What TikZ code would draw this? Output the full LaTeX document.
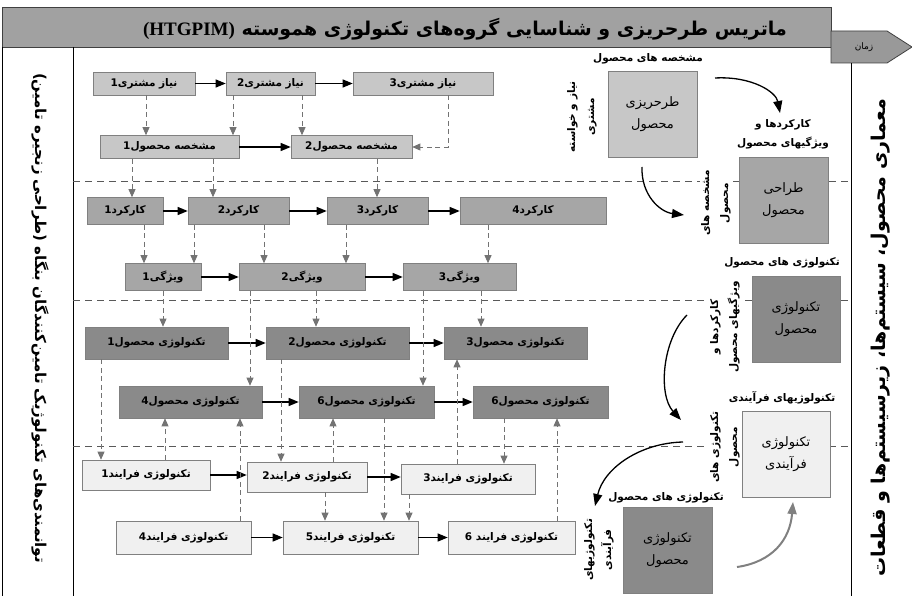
\documentclass[tikz,border=0pt]{standalone}
\usepackage{fontspec}
\usepackage{tikz}
\usetikzlibrary{arrows.meta, positioning, calc}
\TeXXeTstate=1
\newfontfamily\fa[Script=Arabic]{DejaVu Sans}
\newfontfamily\lat{Liberation Serif}

\begin{document}
\begin{tikzpicture}[
  x=1pt, y=-1pt,
  cell/.style={rectangle, draw=black!50, line width=0.6pt, inner sep=1pt,
               font=\fa\bfseries\fontsize{10.5}{12}\selectfont},
  needbox/.style={cell, fill=black!22, minimum height=23},
  funcbox/.style={cell, fill=black!35, minimum height=27},
  techbox/.style={cell, fill=black!46, minimum height=32},
  procbox/.style={cell, fill=black!6, minimum height=30},
  bigbox/.style={rectangle, draw=black!50, line width=0.6pt, minimum width=89,
                 minimum height=86, align=center,
                 font=\fa\fontsize{13}{22}\selectfont},
  sidelab/.style={font=\fa\bfseries\fontsize{10.5}{19}\selectfont, align=center,
                  inner sep=1pt, fill=white},
  rowline/.style={black!65, line width=0.9pt, dash pattern=on 7pt off 5pt},
  dasharr/.style={black!55, line width=0.8pt, dash pattern=on 5pt off 3.5pt,
                  -{Triangle[length=8pt, width=7pt]}},
  solidarr/.style={black, line width=1.2pt, -{Triangle[length=10pt, width=8pt]}},
  curvarr/.style={black, line width=1.3pt, -{Triangle[length=12pt, width=9pt]}}
]
\useasboundingbox (0,0) rectangle (912,596);

% frame
\draw[black!75, line width=0.8pt, fill=black!37] (2,7) rectangle (831,47);
\draw[black!75, line width=0.8pt, fill=black!40]
  (831,31) -- (887,31) -- (912,47) -- (887,63) -- (831,63) -- cycle;
\draw[line width=0.8pt] (2,47) -- (2,596);
\draw[line width=0.8pt] (73,47) -- (73,596);
\draw[line width=0.8pt] (851,63) -- (851,596);
\foreach \y in {181,300,446}
  \draw[rowline] (73,\y) -- (851,\y);

\node[font=\fa\bfseries\fontsize{19}{22}\selectfont] (title) at (465,29)
  {\beginR ماتریس طرحریزی و شناسایی گروه‌های تکنولوژی هموسته \beginL{\lat\bfseries (HTGPIM)}\endL\endR};
\node[font=\fa\fontsize{9}{10}\selectfont] (time) at (864,47) {\beginR زمان\endR};

\node[rotate=-90, font=\fa\bfseries\fontsize{15}{17}\selectfont] (suppl) at (40,318)
  {\beginR توانمندی‌های تکنولوژیک تامین‌کنندگان بنگاه (طراحی زنجیره تامین)\endR};
\node[rotate=90, font=\fa\bfseries\fontsize{19}{22}\selectfont] (arch) at (881,338)
  {\beginR معماری محصول، سیستم‌ها، زیرسیستم‌ها و قطعات\endR};

% needs and specifications
\node[needbox, minimum width=102] (n1) at (144,83.5) {\beginR نیاز مشتری1\endR};
\node[needbox, minimum width=89] (n2) at (270.5,83.5) {\beginR نیاز مشتری2\endR};
\node[needbox, minimum width=140] (n3) at (423,83.5) {\beginR نیاز مشتری3\endR};
\node[needbox, minimum width=139] (m1) at (169.5,147) {\beginR مشخصه محصول1\endR};
\node[needbox, minimum width=121] (m2) at (351.5,147) {\beginR مشخصه محصول2\endR};

% functions and features
\node[funcbox, minimum width=76] (k1) at (125,211) {\beginR کارکرد1\endR};
\node[funcbox, minimum width=101] (k2) at (238.5,211) {\beginR کارکرد2\endR};
\node[funcbox, minimum width=101] (k3) at (377.5,211) {\beginR کارکرد3\endR};
\node[funcbox, minimum width=146] (k4) at (533,211) {\beginR کارکرد4\endR};
\node[funcbox, minimum width=76] (v1) at (163,277) {\beginR ویژگی1\endR};
\node[funcbox, minimum width=126] (v2) at (302,277) {\beginR ویژگی2\endR};
\node[funcbox, minimum width=113] (v3) at (459.5,277) {\beginR ویژگی3\endR};

% product technologies
\node[techbox, minimum width=143] (p1) at (156.5,343) {\beginR تکنولوژی محصول1\endR};
\node[techbox, minimum width=143] (p2) at (337.5,343) {\beginR تکنولوژی محصول2\endR};
\node[techbox, minimum width=143] (p3) at (515.5,343) {\beginR تکنولوژی محصول3\endR};
\node[techbox, minimum width=143] (p4) at (190.5,402) {\beginR تکنولوژی محصول4\endR};
\node[techbox, minimum width=135] (p5) at (366.5,402) {\beginR تکنولوژی محصول6\endR};
\node[techbox, minimum width=135] (p6) at (540.5,402) {\beginR تکنولوژی محصول6\endR};

% process technologies
\node[procbox, minimum width=128] (f1) at (146,475) {\beginR تکنولوژی فرایند1\endR};
\node[procbox, minimum width=120] (f2) at (307,477) {\beginR تکنولوژی فرایند2\endR};
\node[procbox, minimum width=134] (f3) at (468,479) {\beginR تکنولوژی فرایند3\endR};
\node[procbox, minimum width=135, minimum height=33] (f4) at (183.5,537.5) {\beginR تکنولوژی فرایند4\endR};
\node[procbox, minimum width=135, minimum height=33] (f5) at (350.5,537.5) {\beginR تکنولوژی فرایند5\endR};
\node[procbox, minimum width=127, minimum height=33] (f6) at (511.5,537.5) {\beginR تکنولوژی فرایند 6\endR};

% links
\foreach \a/\b in {n1/n2, n2/n3, m1/m2, k1/k2, k2/k3, k3/k4, v1/v2, v2/v3,
                   p1/p2, p2/p3, p4/p5, p5/p6, f1/f2, f2/f3, f4/f5, f5/f6}
  \draw[solidarr] (\a.east) -- (\a.east -| \b.west);

\foreach \a/\b/\s in {n1/m1/2, n2/m1/-37.5, n2/m2/31.5, m1/k1/-37.5, m1/k2/43.5,
                      m2/k3/25.5, k1/v1/19, k2/v1/-44.5, k2/v2/25.5, k3/v2/-31.5,
                      k4/v3/-45, v1/p1/0, v2/p4/-52, v2/p2/14, v3/p5/-36.5,
                      v3/p3/21.5, p1/f1/-55.5, p2/f2/-56.5, p5/f5/17.5,
                      p6/f3/-36.5, f2/f5/18, f3/f5/-59}
  \draw[dasharr] ([xshift=\s]\a.south) -- ([xshift=\s]\a.south |- \b.north);

\foreach \a/\b/\s in {f1/p4/19, f4/p4/56.5, f2/p5/26, f3/p3/-11, f6/p6/45.5}
  \draw[dasharr] ([xshift=\s]\a.north) -- ([xshift=\s]\a.north |- \b.south);

\draw[dasharr] ([xshift=25]n3.south) |- (m2.east);

% design stages
\node[bigbox, fill=black!22] (plan) at (652.5,114.5) {\beginR طرحریزی\endR\\\beginR محصول\endR};
\node[bigbox, fill=black!35] (design) at (783.5,200) {\beginR طراحی\endR\\\beginR محصول\endR};
\node[bigbox, fill=black!46, minimum width=88] (ptech) at (796,319) {\beginR تکنولوژی\endR\\\beginR محصول\endR};
\node[bigbox, fill=black!6, minimum width=88] (proc) at (786,454.5) {\beginR تکنولوژی\endR\\\beginR فرآیندی\endR};
\node[bigbox, fill=black!46] (ptech2) at (667.5,550) {\beginR تکنولوژی\endR\\\beginR محصول\endR};

\node[sidelab] (lplan) at (648,59) {\beginR مشخصه های محصول\endR};
\node[sidelab] (ldesign) at (783,134) {\beginR کارکردها و\endR\\\beginR ویژگیهای محصول\endR};
\node[sidelab] (lptech) at (782,263) {\beginR تکنولوژی های محصول\endR};
\node[sidelab] (lproc) at (782,398) {\beginR تکنولوژیهای فرآیندی\endR};
\node[sidelab] (lptech2) at (666,498) {\beginR تکنولوژی های محصول\endR};

\node[sidelab, rotate=90] (rplan) at (582,117) {\beginR نیاز و خواسته\endR\\\beginR مشتری\endR};
\node[sidelab, rotate=90] (rdesign) at (716,203) {\beginR مشخصه های\endR\\\beginR محصول\endR};
\node[sidelab, rotate=90] (rptech) at (725,327) {\beginR کارکردها و\endR\\\beginR ویژگیهای محصول\endR};
\node[sidelab, rotate=90] (rproc) at (725,447) {\beginR تکنولوژی های\endR\\\beginR محصول\endR};
\node[sidelab, rotate=90] (rptech2) at (599,550) {\beginR تکنولوژیهای\endR\\\beginR فرآیندی\endR};

\coordinate (c1a) at (715,78);  \coordinate (c1b) at (780,113);
\coordinate (c2a) at (642,167); \coordinate (c2b) at (684,215);
\coordinate (c3a) at (687,315); \coordinate (c3b) at (681,420);
\coordinate (c4a) at (683,442); \coordinate (c4b) at (595,506);
\coordinate (c5a) at (737,567); \coordinate (c5b) at (793,502);
\draw[curvarr] (c1a) .. controls (752,76) and (776,92) .. (c1b);
\draw[curvarr] (c2a) .. controls (641,195) and (660,212) .. (c2b);
\draw[curvarr] (c3a) .. controls (662,340) and (658,395) .. (c3b);
\draw[curvarr] (c4a) .. controls (640,443) and (604,468) .. (c4b);
\draw[curvarr, black!50, line width=2pt] (c5a) .. controls (772,562) and (790,540) .. (c5b);
\end{tikzpicture}
\end{document}
